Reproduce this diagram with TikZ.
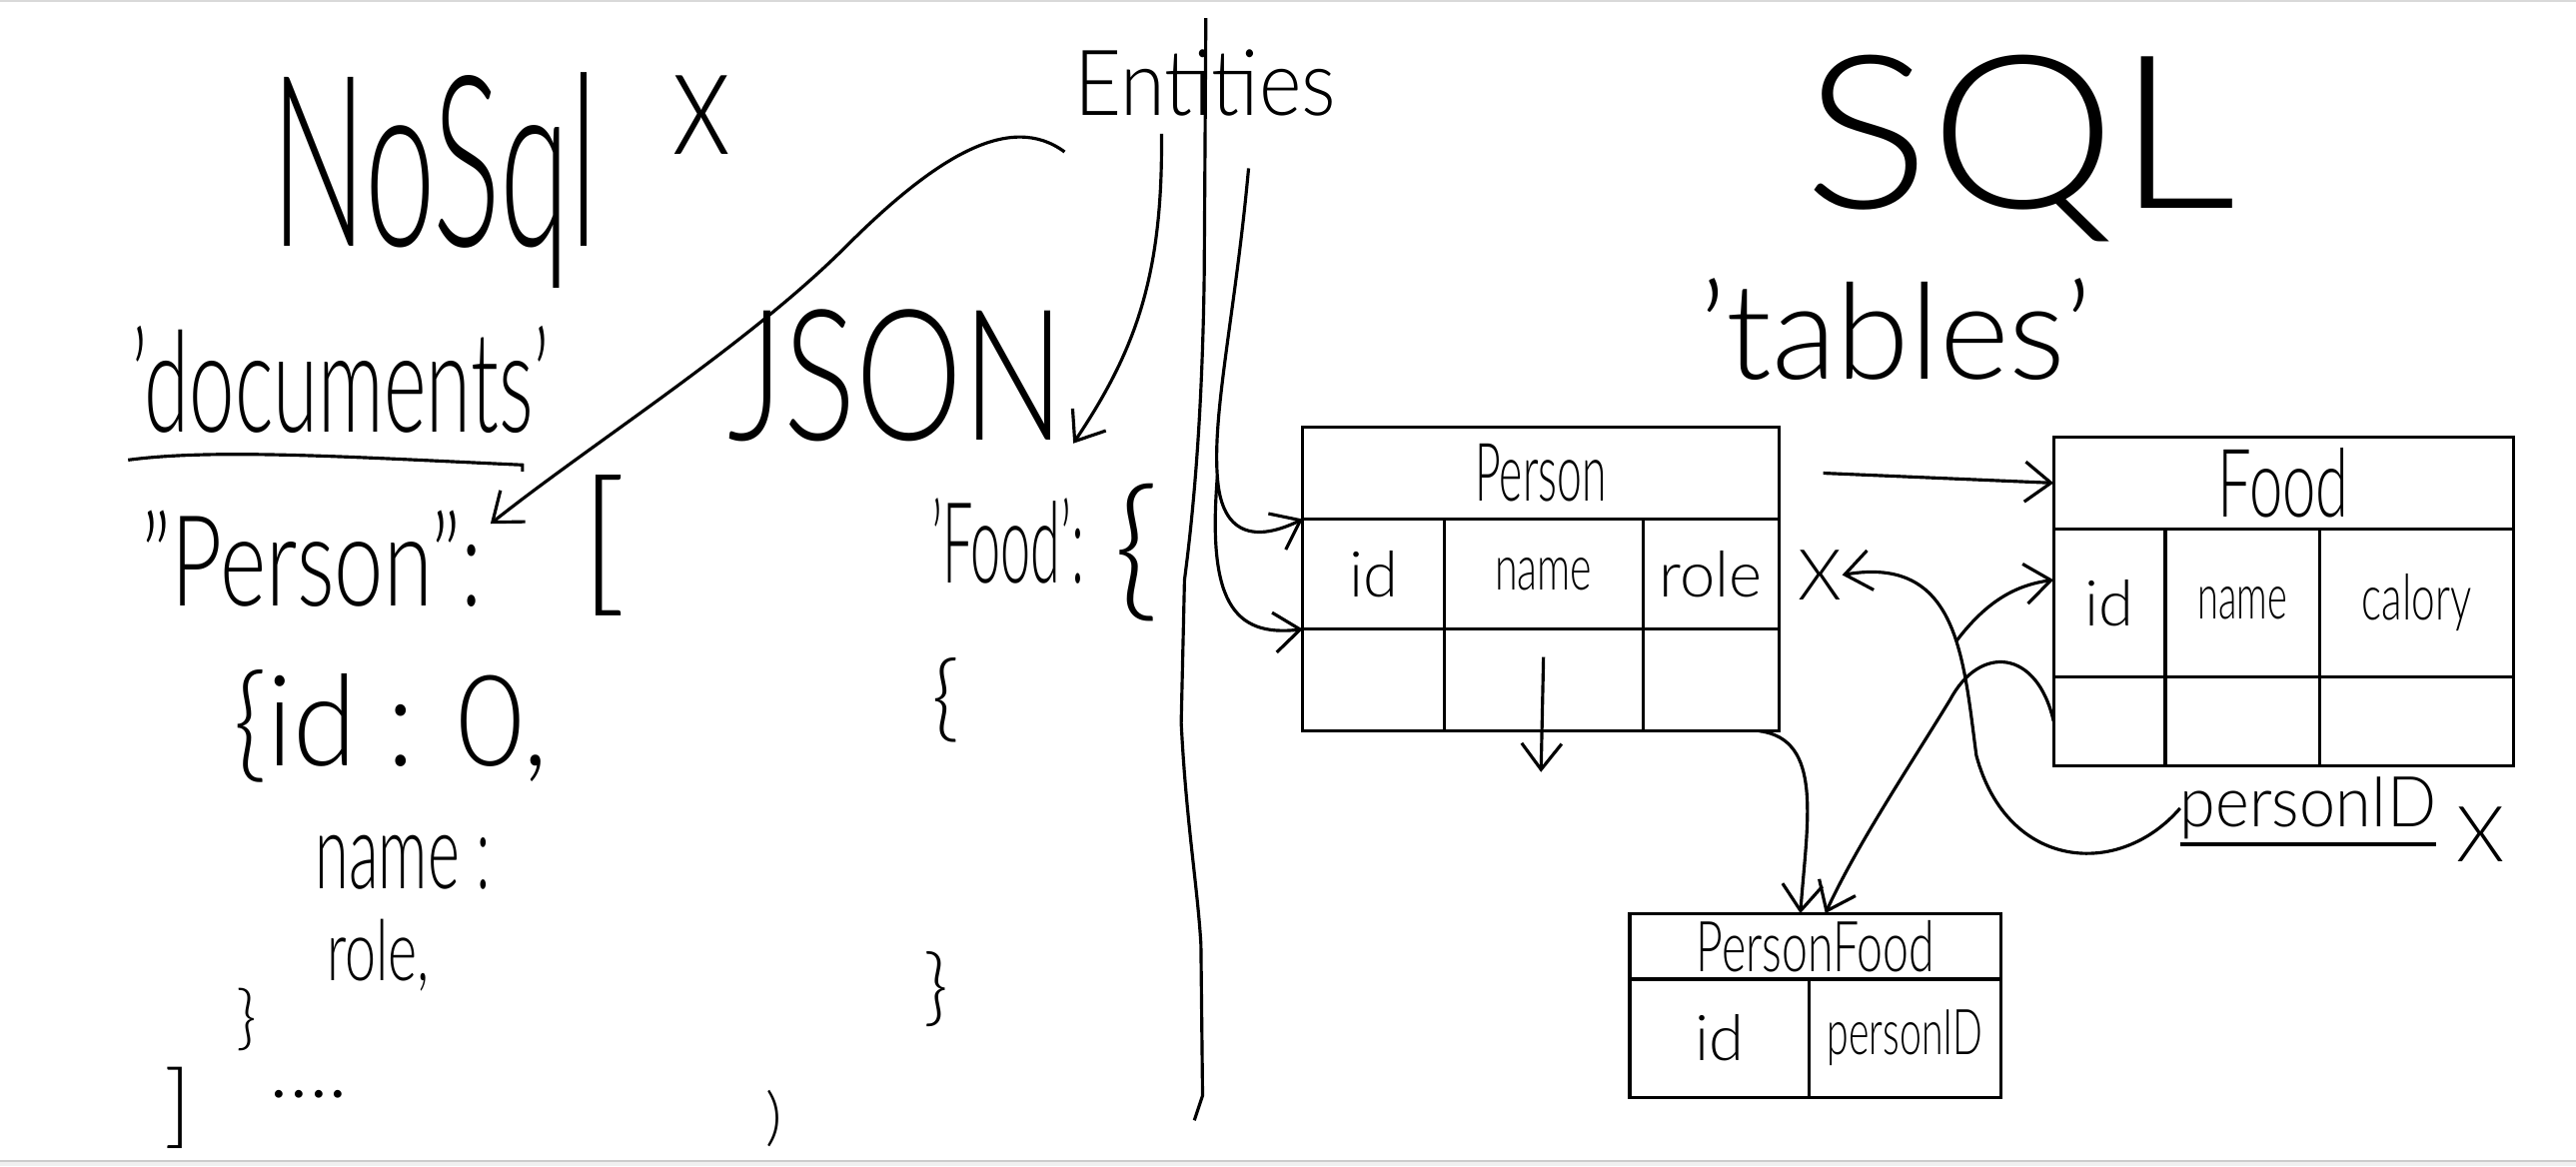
\documentclass[tikz,border=0pt]{standalone}
\usepackage{fontspec}
\IfFontExistsTF{Lato Light}{\setmainfont{Lato Light}}{\setmainfont{Fira Sans}}
\usepackage{graphicx}
\usetikzlibrary{arrows.meta}
\usetikzlibrary{calc}

\newdimen\pxu
\pxu=0.1644mm
\newcommand{\fs}[1]{\fontsize{#1}{#1}\selectfont}
\newcommand{\hw}[2]{\scalebox{#1}[1]{#2}}

\tikzset{
  txt/.style={inner sep=0pt, outer sep=0pt, anchor=base west},
  cell/.style={draw, line width=0.9pt, inner sep=0pt, outer sep=0pt, font=\fs{18pt}},
}

\begin{document}
\begin{tikzpicture}[x=0.1644mm, y=-0.1644mm, line width=0.9pt,
    >={Straight Barb[length=2.6mm, width=4mm]}]
    % page
    \useasboundingbox (0,0) rectangle (1568,710);
    \fill[white] (0,0) rectangle (1568,710);
    \fill[black!15] (0,0) rectangle (1568,1.5);
    \fill[black!6] (0,706.5) rectangle (1568,710);
    \draw[black!20, line width=0.6pt] (0,706.5) -- (1568,706.5);

    % NoSql side
    \node[txt, font=\fs{68pt}] (nosql) at (165,150) {\hw{.53}{NoSql}};
    \node[txt, anchor=center, font=\fs{45pt}] (cross) at (427,70) {\hw{.8}{x}};
    \node[txt, font=\fs{40pt}] (docs) at (80,263) {\hw{.58}{'documents'}};
    \draw (78,280) .. controls (130,273) and (210,278) .. (318,283) -- (318,287);
    \node[txt, font=\fs{52pt}] (json) at (443,268) {\hw{.74}{JSON}};

    \node[txt, font=\fs{36pt}] (pkey) at (86,369) {\hw{.7}{"Person":}};
    \node[txt, font=\fs{45pt}] (lbrack) at (353,362) {[};
    \node[txt, font=\fs{36pt}] (did) at (142,466) {\hw{.91}{\{id : 0,}};
    \node[txt, font=\fs{30pt}] (dname) at (192,541) {\hw{.58}{name :}};
    \node[txt, font=\fs{24pt}] (drole) at (199,597) {\hw{.66}{role,}};
    \node[txt, font=\fs{20pt}] (dclose) at (144,634) {\}};
    \node[txt, font=\fs{26pt}] (rbrack) at (100,692) {]};
    \node[txt, font=\fs{24pt}] (ddots) at (164,668) {....};

    \node[txt, font=\fs{32pt}] (fkeyj) at (567,355) {\hw{.48}{'Food':}};
    \node[txt, font=\fs{44pt}] (fopen) at (678,366) {\{};
    \node[txt, font=\fs{27pt}] (fopen2) at (567,444) {\{};
    \node[txt, font=\fs{24pt}] (fclose2) at (562,618) {\}};
    \node[txt, font=\fs{18pt}] (fclose) at (466,693) {)};

    % divider
    \draw (734,11) -- (733,168) .. controls (732,240) and (728,300) .. (721,353)
        -- (719,440) .. controls (722,500) and (729,540) .. (731,575) -- (732,667) -- (727,682);
    \node[txt, font=\fs{26pt}] (ent) at (654,70) {\hw{.89}{Entities}};

    % SQL side
    \node[txt, font=\fs{61pt}] (sql) at (1098,127) {\hw{1.1}{SQL}};
    \node[txt, font=\fs{38pt}] (tables) at (1034,231) {'tables'};

    % Person table
    \node[cell, minimum width=290*\pxu, minimum height=56*\pxu, font=\fs{23pt}] (person) at (938,288) {\hw{.55}{Person}};
    \node[cell, minimum width=86*\pxu, minimum height=67*\pxu] (pid) at (836,349.5) {id};
    \node[cell, minimum width=121*\pxu, minimum height=67*\pxu] (pname) at (939.5,349.5) {\hw{.65}{name}};
    \node[cell, minimum width=83*\pxu, minimum height=67*\pxu] (prole) at (1041.5,349.5) {role};
    \node[cell, minimum width=86*\pxu, minimum height=62*\pxu] (pid2) at (836,414) {};
    \node[cell, minimum width=121*\pxu, minimum height=62*\pxu] (pname2) at (939.5,414) {};
    \node[cell, minimum width=83*\pxu, minimum height=62*\pxu] (prole2) at (1041.5,414) {};
    \node[txt, anchor=center, font=\fs{20pt}] (xrole) at (1108,350) {X};

    % Food table
    \node[cell, minimum width=280*\pxu, minimum height=56*\pxu, font=\fs{27pt}] (food) at (1390,294) {\hw{.63}{Food}};
    \node[cell, minimum width=68*\pxu, minimum height=90*\pxu] (fid) at (1284,367) {id};
    \node[cell, minimum width=94*\pxu, minimum height=90*\pxu] (fname) at (1365,367) {\hw{.6}{name}};
    \node[cell, minimum width=118*\pxu, minimum height=90*\pxu] (fcal) at (1471,367) {\hw{.67}{calory}};
    \node[cell, minimum width=68*\pxu, minimum height=54*\pxu] (fid2) at (1284,439) {};
    \node[cell, minimum width=94*\pxu, minimum height=54*\pxu] (fname2) at (1365,439) {};
    \node[cell, minimum width=118*\pxu, minimum height=54*\pxu] (fcal2) at (1471,439) {};
    \node[txt, anchor=center, font=\fs{20pt}] (fkey) at (1405,492) {\hw{.92}{personID}};
    \node[txt, anchor=center, font=\fs{22pt}] (xfood) at (1510,508) {X};
    \draw ([yshift=-0.5mm]fkey.south west) -- ([yshift=-0.5mm]fkey.south east);

    % PersonFood table
    \node[cell, minimum width=226*\pxu, minimum height=40*\pxu, font=\fs{20pt}] (pf) at (1105,576) {\hw{.66}{PersonFood}};
    \node[cell, minimum width=109*\pxu, minimum height=72*\pxu] (pfid) at (1046.5,632) {id};
    \node[cell, minimum width=117*\pxu, minimum height=72*\pxu] (pfkey) at (1159.5,632) {\hw{.62}{personID}};

    % arrows
    \draw[->] ([shift={(-6,22)}]ent.south west) .. controls (615,68) and (570,95) .. (515,150)
        .. controls (455,210) and (360,270) .. ([shift={(5,8)}]pkey.north east);
    \draw[->] ([shift={(53,11)}]ent.south west) .. controls (708,170) and (690,215) .. ([shift={(5,1)}]json.south east);
    \coordinate (entsplit) at (741,290);
    \draw[->] ([shift={(106,32)}]ent.south west) .. controls (752,190) and (738,250) .. (entsplit)
        .. controls (743,322) and (760,332) .. (person.south west);
    \draw[->] (entsplit) .. controls (735,365) and (750,388) .. (pid2.north west);

    \draw[->] ([xshift=4.4mm]person.east) -- (food.west);
    \coordinate (pdown) at (938,470);
    \draw[->] ([yshift=2.3mm]pname2.center) -- (pdown);
    \draw[->] ([xshift=-2mm]prole2.south east) .. controls (1110,450) and (1100,500) .. ([xshift=-1.5mm]pf.north);
    \draw[->] (fid2.west) .. controls (1240,395) and (1205,392) .. (1187,426)
        .. controls (1160,470) and (1130,515) .. ([xshift=1mm]pf.north);
    \draw[->] (fkey.west) .. controls (1290,535) and (1222,530) .. (1203,460)
        .. controls (1195,400) and (1192,338) .. (xrole.east);
    \coordinate (fbranch) at (1191,390);
    \draw[->] (fbranch) .. controls (1210,365) and (1228,356) .. ([yshift=2.3mm]fid.west);

\end{tikzpicture}
\end{document}
